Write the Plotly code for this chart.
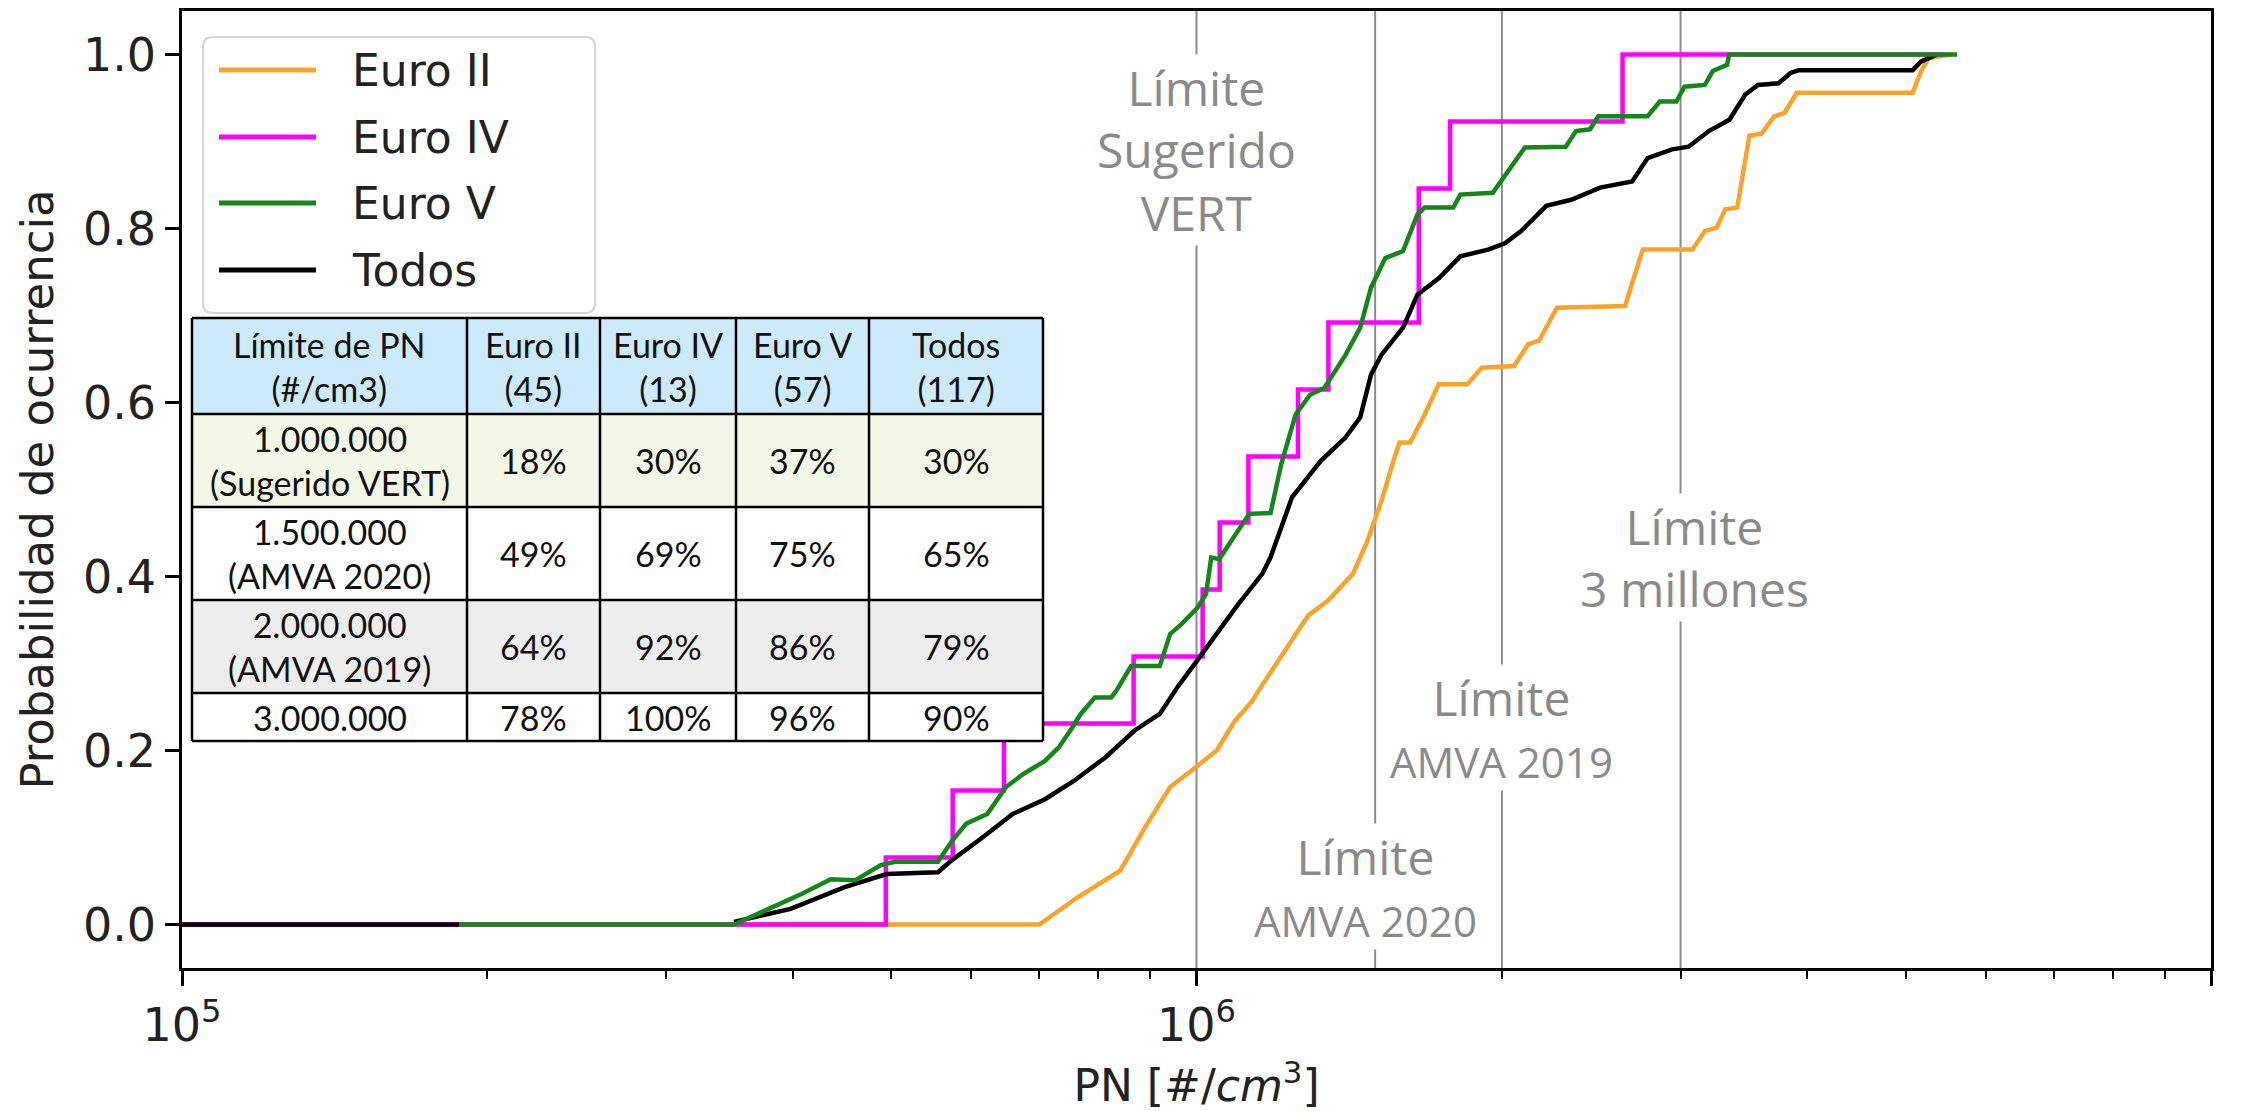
import numpy as np
import plotly.graph_objects as go

# ---------------------------------------------------------------------------
# Cumulative probability curves of particle number (PN, #/cm3)
# ---------------------------------------------------------------------------
euro2_pn = [1.0e5, 7.00e5, 7.63e5, 8.41e5, 8.90e5, 9.42e5, 9.89e5, 1.047e6, 1.091e6,
            1.135e6, 1.162e6, 1.216e6, 1.259e6, 1.288e6, 1.347e6, 1.426e6, 1.474e6,
            1.522e6, 1.560e6, 1.585e6, 1.624e6, 1.678e6, 1.733e6, 1.849e6, 1.911e6,
            2.056e6, 2.123e6, 2.176e6, 2.266e6, 2.645e6, 2.754e6, 3.083e6, 3.170e6,
            3.258e6, 3.319e6, 3.412e6, 3.508e6, 3.606e6, 3.712e6, 3.799e6, 3.906e6,
            5.08e6, 5.18e6, 5.27e6, 5.55e6]
euro2_prob = [0.0, 0.0, 0.031, 0.062, 0.112, 0.158, 0.177, 0.200, 0.234,
              0.257, 0.276, 0.310, 0.337, 0.355, 0.372, 0.403, 0.441,
              0.487, 0.529, 0.554, 0.554, 0.586, 0.621, 0.621, 0.640,
              0.642, 0.667, 0.671, 0.709, 0.711, 0.776, 0.776, 0.797,
              0.801, 0.822, 0.824, 0.907, 0.909, 0.929, 0.933, 0.956,
              0.956, 0.981, 0.996, 1.0]

euro4_pn = [1.0e5, 4.94e5, 5.75e5, 6.46e5, 8.67e5, 1.014e6, 1.054e6, 1.125e6,
            1.259e6, 1.349e6, 1.656e6, 1.778e6, 2.630e6, 5.45e6]
euro4_prob = [0.0, 0.077, 0.154, 0.231, 0.308, 0.385, 0.462, 0.538,
              0.615, 0.692, 0.846, 0.923, 1.0, 1.0]

euro5_pn = [1.875e5, 3.50e5, 3.82e5, 4.08e5, 4.36e5, 4.61e5, 4.88e5, 5.04e5, 5.56e5,
            5.74e5, 5.93e5, 6.22e5, 6.49e5, 6.75e5, 7.09e5, 7.32e5, 7.51e5, 7.69e5,
            7.94e5, 8.24e5, 8.34e5, 8.55e5, 8.62e5, 9.20e5, 9.42e5, 9.66e5, 1.002e6,
            1.022e6, 1.034e6, 1.053e6, 1.127e6, 1.183e6, 1.212e6, 1.252e6, 1.294e6,
            1.337e6, 1.403e6, 1.450e6, 1.486e6, 1.535e6, 1.598e6, 1.651e6, 1.678e6,
            1.791e6, 1.820e6, 1.959e6, 2.030e6, 2.107e6, 2.312e6, 2.366e6, 2.443e6,
            2.489e6, 2.784e6, 2.862e6, 2.972e6, 3.027e6, 3.170e6, 3.228e6, 3.334e6,
            3.350e6, 5.62e6]
euro5_prob = [0.0, 0.0, 0.020, 0.035, 0.052, 0.051, 0.068, 0.072, 0.072,
              0.096, 0.116, 0.127, 0.158, 0.173, 0.188, 0.204, 0.223, 0.242,
              0.261, 0.261, 0.269, 0.292, 0.297, 0.297, 0.334, 0.345, 0.364,
              0.380, 0.422, 0.420, 0.472, 0.473, 0.529, 0.586, 0.609,
              0.617, 0.655, 0.686, 0.732, 0.766, 0.774, 0.816, 0.824,
              0.824, 0.839, 0.841, 0.866, 0.893, 0.894, 0.912, 0.914,
              0.929, 0.929, 0.946, 0.946, 0.963, 0.965, 0.981, 0.988,
              1.0, 1.0]

todos_pn = [1.0e5, 1.875e5, None, 3.50e5, 3.98e5, 4.50e5, 4.95e5, 5.56e5, 5.74e5,
            6.12e5, 6.59e5, 7.09e5, 7.57e5, 8.13e5, 8.69e5, 9.20e5, 9.58e5, 9.98e5,
            1.047e6, 1.099e6, 1.161e6, 1.183e6, 1.242e6, 1.326e6, 1.403e6, 1.450e6,
            1.486e6, 1.522e6, 1.598e6, 1.651e6, 1.734e6, 1.820e6, 1.942e6, 2.014e6,
            2.089e6, 2.212e6, 2.341e6, 2.499e6, 2.688e6, 2.784e6, 2.943e6, 3.055e6,
            3.199e6, 3.352e6, 3.475e6, 3.577e6, 3.747e6, 3.853e6, 3.926e6, 5.08e6,
            5.18e6, 5.37e6]
todos_prob = [0.0, 0.0, None, 0.003, 0.018, 0.043, 0.058, 0.060, 0.074,
              0.098, 0.127, 0.144, 0.165, 0.192, 0.223, 0.242, 0.273, 0.301,
              0.334, 0.368, 0.403, 0.422, 0.491, 0.533, 0.560, 0.583,
              0.632, 0.655, 0.686, 0.724, 0.743, 0.768, 0.776, 0.783,
              0.797, 0.826, 0.833, 0.847, 0.854, 0.881, 0.891, 0.894,
              0.912, 0.925, 0.954, 0.965, 0.967, 0.979, 0.982, 0.982,
              0.992, 1.0]

# Regulatory PN limits shown as vertical reference lines
limit_values = [1.0e6, 1.5e6, 2.0e6, 3.0e6]
limit_labels = ["Límite<br>Sugerido<br>VERT",
                "Límite<br><span style='font-size:42px'>AMVA 2020</span>",
                "Límite<br><span style='font-size:42px'>AMVA 2019</span>",
                "Límite<br>3 millones"]
limit_label_y = [0.89, 0.044, 0.226, 0.422]
limit_label_shift = [0, -10, 0, 14]

# Summary table (share of vehicles under each limit)
table_header = ["Límite de PN<br>(#/cm3)", "Euro II<br>(45)", "Euro IV<br>(13)",
                "Euro V<br>(57)", "Todos<br>(117)"]
table_rows = ["1.000.000<br>(Sugerido VERT)", "1.500.000<br>(AMVA 2020)",
              "2.000.000<br>(AMVA 2019)", "3.000.000"]
table_values = [["18%", "30%", "37%", "30%"],
                ["49%", "69%", "75%", "65%"],
                ["64%", "92%", "86%", "79%"],
                ["78%", "100%", "96%", "90%"]]
table_fills = ["#cdeafb", "#f2f8e5", "#ffffff", "#ededed", "#ffffff"]

# ---------------------------------------------------------------------------
W, H = 2246, 1111
M_L, M_R, M_T, M_B = 182, 35, 11, 143
PW, PH = W - M_L - M_R, H - M_T - M_B

TICK_FONT = dict(family="DejaVu Sans", size=46, color="#222222")


def px_x(p):
    """pixel column -> paper x"""
    return (p - M_L) / PW


def px_y(p):
    """pixel row -> paper y"""
    return (H - M_B - p) / PH


fig = go.Figure()

series = [
    ("Euro II", euro2_pn, euro2_prob, "#f8a32a", "linear"),
    ("Euro IV", euro4_pn, euro4_prob, "#ff00ff", "hv"),
    ("Todos", todos_pn, todos_prob, "#000000", "linear"),
    ("Euro V", euro5_pn, euro5_prob, "#15861a", "linear"),
]
for name, xs, ys, color, shape in series:
    fig.add_trace(go.Scatter(
        x=xs, y=ys, mode="lines", name=name, showlegend=False,
        line=dict(color=color, width=4.5, shape=shape),
        connectgaps=False,
    ))

# vertical limit lines
for v in limit_values:
    fig.add_shape(type="line", xref="x", yref="paper", x0=v, x1=v, y0=0, y1=1,
                  line=dict(color="#8c8c8c", width=2), layer="below")

# limit labels (white box hides the line behind the text)
for v, txt, yl, sh in zip(limit_values, limit_labels, limit_label_y, limit_label_shift):
    fig.add_annotation(x=np.log10(v), y=yl, xref="x", yref="y", text=txt,
                       showarrow=False, xshift=sh, bgcolor="#ffffff", borderpad=0,
                       font=dict(family="Open Sans", size=48, color="#8a8a8a"),
                       align="center")

# ---------------------------------------------------------------------------
# legend box: rounded frame, line samples and names
lg_x0, lg_x1, lg_y0, lg_y1, rad = 203, 595, 37, 313, 10
rx, ry = rad / PW, rad / PH
X0, X1, Y0, Y1 = px_x(lg_x0), px_x(lg_x1), px_y(lg_y1), px_y(lg_y0)
legend_path = (f"M {X0 + rx},{Y0} L {X1 - rx},{Y0} Q {X1},{Y0} {X1},{Y0 + ry} "
               f"L {X1},{Y1 - ry} Q {X1},{Y1} {X1 - rx},{Y1} L {X0 + rx},{Y1} "
               f"Q {X0},{Y1} {X0},{Y1 - ry} L {X0},{Y0 + ry} Q {X0},{Y0} {X0 + rx},{Y0} Z")
fig.add_shape(type="path", xref="paper", yref="paper", path=legend_path,
              fillcolor="rgba(255,255,255,0.85)", line=dict(color="#d6d6d6", width=2),
              layer="above")
legend_order = ["Euro II", "Euro IV", "Euro V", "Todos"]
legend_rows = [70, 137, 203, 270]
colors = {name: color for name, _, _, color, _ in series}
for name, row in zip(legend_order, legend_rows):
    fig.add_shape(type="line", xref="paper", yref="paper",
                  x0=px_x(219), x1=px_x(316), y0=px_y(row), y1=px_y(row),
                  line=dict(color=colors[name], width=5), layer="above")
    fig.add_annotation(xref="paper", yref="paper", x=px_x(350), y=px_y(row),
                       text=name, showarrow=False, xanchor="left", yanchor="middle",
                       font=dict(family="DejaVu Sans", size=44, color="#222222"))

# ---------------------------------------------------------------------------
# table drawn in pixel positions converted to paper coordinates
col_px = [192, 467, 600, 736, 869, 1043]
row_px = [318, 414, 507, 600, 693, 741]

all_rows = [table_header] + [[lab] + vals for lab, vals in zip(table_rows, table_values)]
for r, row in enumerate(all_rows):
    y0, y1 = px_y(row_px[r + 1]), px_y(row_px[r])
    fig.add_shape(type="rect", xref="paper", yref="paper",
                  x0=px_x(col_px[0]), x1=px_x(col_px[-1]), y0=y0, y1=y1,
                  fillcolor=table_fills[r], line=dict(width=0), layer="above")
    for c, txt in enumerate(row):
        fig.add_annotation(xref="paper", yref="paper",
                           x=(px_x(col_px[c]) + px_x(col_px[c + 1])) / 2,
                           y=(y0 + y1) / 2, text=txt, showarrow=False,
                           font=dict(family="Lato", size=34, color="#111111"),
                           align="center", xanchor="center", yanchor="middle")
# grid lines of the table
for p in row_px:
    fig.add_shape(type="line", xref="paper", yref="paper",
                  x0=px_x(col_px[0]), x1=px_x(col_px[-1]), y0=px_y(p), y1=px_y(p),
                  line=dict(color="#000000", width=2.5), layer="above")
for p in col_px:
    fig.add_shape(type="line", xref="paper", yref="paper",
                  x0=px_x(p), x1=px_x(p), y0=px_y(row_px[0]), y1=px_y(row_px[-1]),
                  line=dict(color="#000000", width=2.5), layer="above")

# ---------------------------------------------------------------------------
minor_x = [m * 10 ** e for e in (5, 6) for m in range(2, 10)]

fig.update_layout(
    width=W, height=H,
    margin=dict(l=M_L, r=M_R, t=M_T, b=M_B, autoexpand=False),
    paper_bgcolor="#ffffff", plot_bgcolor="#ffffff",
    font=dict(family="DejaVu Sans", color="#222222"),
    showlegend=False,
)
fig.update_xaxes(
    type="log", range=[5, 7], automargin=False,
    tickvals=[1e5, 1e6, 1e7], ticktext=["10<sup>5</sup>", "10<sup>6</sup>", "10<sup>7</sup>"],
    ticks="outside", ticklen=15, tickwidth=2.5, tickcolor="#000000",
    minor=dict(tickvals=minor_x, ticks="outside", ticklen=8, tickwidth=1.8,
               tickcolor="#000000", showgrid=False),
    showline=True, mirror=True, linecolor="#000000", linewidth=2.5,
    showgrid=False, zeroline=False, tickfont=TICK_FONT,
    title=dict(text="PN [#/<i>cm</i><sup>3</sup>]",
               font=dict(family="DejaVu Sans", size=44, color="#222222"), standoff=28),
)
fig.update_yaxes(
    range=[-0.05, 1.05], automargin=False,
    tickvals=[0, 0.2, 0.4, 0.6, 0.8, 1.0], tickformat=".1f",
    ticks="outside", ticklen=14, tickwidth=2.5, tickcolor="#000000",
    showline=True, mirror=True, linecolor="#000000", linewidth=2.5,
    showgrid=False, zeroline=False, tickfont=TICK_FONT,
    title=dict(text="Probabilidad de ocurrencia",
               font=dict(family="DejaVu Sans", size=45, color="#222222"), standoff=16),
)

fig.write_html("out.html")
